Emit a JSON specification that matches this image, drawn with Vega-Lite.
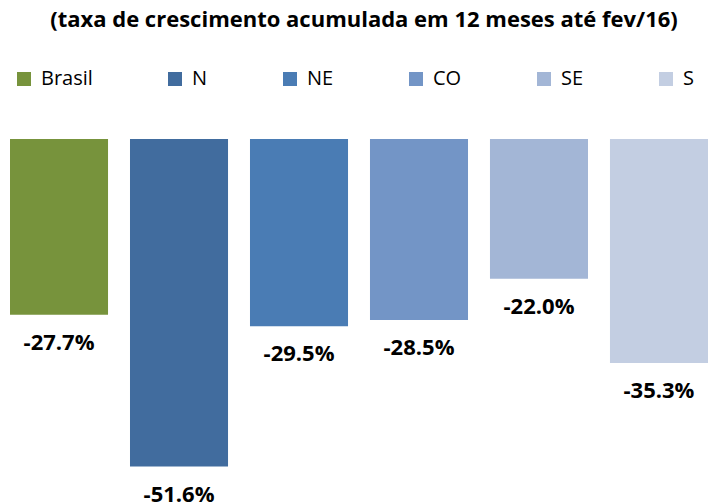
{
  "$schema": "https://vega.github.io/schema/vega-lite/v6.json",
  "autosize": "none",
  "width": 698,
  "height": 365,
  "padding": {"left": 10, "top": 139, "right": 0, "bottom": 0},
  "background": "white",
  "title": {
    "text": "(taxa de crescimento acumulada em 12 meses até fev/16)",
    "font": "Open Sans",
    "fontSize": 22,
    "fontWeight": "bold",
    "color": "#000000",
    "anchor": "middle",
    "dx": 5,
    "offset": 33
  },
  "config": {
    "view": {"stroke": null},
    "locale": {
      "number": {"decimal": ".", "thousands": ",", "grouping": [3], "currency": ["$", ""], "minus": "-"}
    }
  },
  "data": {
    "values": [
      {"regiao": "Brasil", "taxa": -0.277},
      {"regiao": "N", "taxa": -0.516},
      {"regiao": "NE", "taxa": -0.295},
      {"regiao": "CO", "taxa": -0.285},
      {"regiao": "SE", "taxa": -0.220},
      {"regiao": "S", "taxa": -0.353}
    ]
  },
  "encoding": {
    "x": {
      "field": "regiao",
      "type": "nominal",
      "sort": null,
      "axis": null,
      "scale": {"paddingInner": 0.183, "paddingOuter": 0}
    },
    "y": {
      "field": "taxa",
      "type": "quantitative",
      "axis": null,
      "scale": {"domain": [-0.575, 0], "nice": false, "zero": true}
    }
  },
  "layer": [
    {
      "mark": {"type": "bar"},
      "encoding": {
        "color": {
          "field": "regiao",
          "type": "nominal",
          "sort": null,
          "scale": {
            "domain": ["Brasil", "N", "NE", "CO", "SE", "S"],
            "range": ["#77933C", "#416C9E", "#4A7CB4", "#7395C6", "#A3B6D6", "#C3CEE2"]
          },
          "legend": {
            "title": null,
            "orient": "top",
            "direction": "horizontal",
            "offset": 46,
            "symbolType": "square",
            "symbolSize": 196,
            "symbolStrokeWidth": 0,
            "symbolOpacity": 1,
            "labelFont": "Open Sans",
            "labelFontSize": 20,
            "labelColor": "#000000",
            "labelOffset": 7,
            "columnPadding": 72,
            "padding": 4
          }
        }
      }
    },
    {
      "mark": {
        "type": "text",
        "baseline": "middle",
        "align": "center",
        "dy": 28,
        "font": "Open Sans",
        "fontSize": 22,
        "fontWeight": "bold",
        "color": "#000000"
      },
      "encoding": {
        "text": {"field": "taxa", "type": "quantitative", "format": ".1%"}
      }
    }
  ]
}
